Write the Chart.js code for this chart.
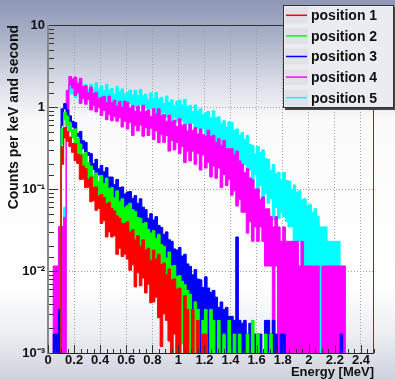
<!DOCTYPE html>
<html>
<head>
<meta charset="utf-8">
<title>Energy spectra</title>
<script src="https://cdn.jsdelivr.net/npm/chart.js@4.4.1/dist/chart.umd.min.js"></script>
<style>
  html, body { margin: 0; padding: 0; background: #ffffff; }
  #wrap { width: 395px; height: 380px; }
</style>
</head>
<body>
<div id="wrap"><canvas id="spectrumChart" width="395" height="380"></canvas></div>
<script>
// =========================
// Data: bin lower edges (MeV) and the noise band of each spectrum
// (upper / lower edge, counts per keV and second)
// =========================
const energy = [
  0, 0.02, 0.04, 0.06, 0.08, 0.1, 0.12, 0.14, 0.16, 0.18,
  0.2, 0.22, 0.24, 0.26, 0.28, 0.3, 0.32, 0.34, 0.36, 0.38,
  0.4, 0.42, 0.44, 0.46, 0.48, 0.5, 0.52, 0.54, 0.56, 0.58,
  0.6, 0.62, 0.64, 0.66, 0.68, 0.7, 0.72, 0.74, 0.76, 0.78,
  0.8, 0.82, 0.84, 0.86, 0.88, 0.9, 0.92, 0.94, 0.96, 0.98,
  1, 1.02, 1.04, 1.06, 1.08, 1.1, 1.12, 1.14, 1.16, 1.18,
  1.2, 1.22, 1.24, 1.26, 1.28, 1.3, 1.32, 1.34, 1.36, 1.38,
  1.4, 1.42, 1.44, 1.46, 1.48, 1.5, 1.52, 1.54, 1.56, 1.58,
  1.6, 1.62, 1.64, 1.66, 1.68, 1.7, 1.72, 1.74, 1.76, 1.78,
  1.8, 1.82, 1.84, 1.86, 1.88, 1.9, 1.92, 1.94, 1.96, 1.98,
  2, 2.02, 2.04, 2.06, 2.08, 2.1, 2.12, 2.14, 2.16, 2.18,
  2.2, 2.22, 2.24, 2.26, 2.28, 2.3, 2.32, 2.34, 2.36, 2.38,
  2.4, 2.42, 2.44, 2.46, 2.48, 2.5,
];

const position1Upper = [
  0, 0, 0, 0, 0, 0.33, 0.56, 0.5, 0.43, 0.36,
  0.356, 0.266, 0.259, 0.191, 0.177, 0.131, 0.14, 0.105, 0.106, 0.082,
  0.086, 0.079, 0.066, 0.069, 0.058, 0.054, 0.047, 0.044, 0.038, 0.038,
  0.04, 0.03, 0.032, 0.024, 0.027, 0.02, 0.024, 0.018, 0.019, 0.0135,
  0.018, 0.014, 0.016, 0.012, 0.0125, 0.009, 0.0106, 0.0078, 0.008, 0.006,
  0.0062, 0, 0.005, 0.0034, 0, 0.0034, 0, 0.0025, 0, 0.0017,
  0.0017, 0, 0, 0, 0, 0, 0, 0, 0, 0,
  0, 0, 0, 0, 0, 0, 0, 0, 0, 0,
  0, 0, 0, 0, 0, 0, 0, 0, 0, 0,
  0, 0, 0, 0, 0, 0, 0, 0, 0, 0,
  0, 0, 0, 0, 0, 0, 0, 0, 0, 0,
  0, 0, 0, 0, 0, 0, 0, 0, 0, 0,
  0, 0, 0, 0, 0, 0,
];
const position1Lower = [
  0, 0, 0, 0, 0, 0.2, 0.42, 0.38, 0.33, 0.28,
  0.221, 0.205, 0.131, 0.132, 0.104, 0.105, 0.07, 0.072, 0.055, 0.058,
  0.038, 0.041, 0.026, 0.03, 0.026, 0.027, 0.016, 0.019, 0.015, 0.016,
  0.014, 0.0102, 0.0119, 0.0064, 0.0095, 0.0066, 0.0082, 0.0054, 0.0069, 0.0041,
  0.0042, 0.0048, 0.0027, 0.0012, 0.003, 0.0025, 0.0014, 0, 0.0017, 0,
  0, 0, 0, 0, 0, 0, 0, 0, 0, 0,
  0, 0, 0, 0, 0, 0, 0, 0, 0, 0,
  0, 0, 0, 0, 0, 0, 0, 0, 0, 0,
  0, 0, 0, 0, 0, 0, 0, 0, 0, 0,
  0, 0, 0, 0, 0, 0, 0, 0, 0, 0,
  0, 0, 0, 0, 0, 0, 0, 0, 0, 0,
  0, 0, 0, 0, 0, 0, 0, 0, 0, 0,
  0, 0, 0, 0, 0, 0,
];

const position2Upper = [
  0, 0, 0, 0, 0, 0.55, 0.86, 0.76, 0.64, 0.53,
  0.54, 0.41, 0.354, 0.27, 0.28, 0.209, 0.191, 0.144, 0.157, 0.124,
  0.146, 0.116, 0.136, 0.101, 0.104, 0.078, 0.095, 0.071, 0.076, 0.06,
  0.063, 0.067, 0.056, 0.053, 0.045, 0.044, 0.038, 0.039, 0.032, 0.029,
  0.031, 0.025, 0.028, 0.021, 0.02, 0.0144, 0.017, 0.0116, 0.0117, 0.0086,
  0.0088, 0.0075, 0.0068, 0.0058, 0.0052, 0, 0.0042, 0.0034, 0, 0.0025,
  0.0034, 0, 0.0034, 0.0025, 0, 0.0025, 0, 0.0017, 0, 0.0025,
  0, 0.0017, 0, 0.0017, 0, 0, 0.0017, 0, 0.0025, 0,
  0.0017, 0, 0, 0.0017, 0, 0.0017, 0, 0, 0, 0,
  0, 0, 0, 0, 0, 0, 0, 0, 0, 0,
  0, 0, 0, 0, 0, 0, 0, 0, 0, 0,
  0, 0, 0, 0, 0, 0, 0, 0, 0, 0,
  0, 0, 0, 0, 0, 0,
];
const position2Lower = [
  0, 0, 0, 0, 0, 0.35, 0.7, 0.6, 0.5, 0.42,
  0.35, 0.261, 0.262, 0.174, 0.179, 0.13, 0.13, 0.098, 0.103, 0.072,
  0.055, 0.066, 0.041, 0.053, 0.042, 0.049, 0.027, 0.038, 0.028, 0.035,
  0.023, 0.026, 0.0143, 0.02, 0.0144, 0.0168, 0.012, 0.0137, 0.0084, 0.011,
  0.0062, 0.0074, 0.0043, 0.0055, 0.0041, 0.0043, 0.0023, 0.003, 0.002, 0.0017,
  0.0017, 0.0013, 0, 0.0012, 0, 0, 0, 0, 0, 0,
  0, 0, 0, 0, 0, 0, 0, 0, 0, 0,
  0, 0, 0, 0, 0, 0, 0, 0, 0, 0,
  0, 0, 0, 0, 0, 0, 0, 0, 0, 0,
  0, 0, 0, 0, 0, 0, 0, 0, 0, 0,
  0, 0, 0, 0, 0, 0, 0, 0, 0, 0,
  0, 0, 0, 0, 0, 0, 0, 0, 0, 0,
  0, 0, 0, 0, 0, 0,
];

const position3Upper = [
  0, 0, 0.0017, 0.0017, 0.0034, 0.95, 1.1, 0.92, 0.78, 0.67,
  0.645, 0.477, 0.504, 0.388, 0.371, 0.279, 0.27, 0.204, 0.23, 0.176,
  0.194, 0.162, 0.182, 0.14, 0.14, 0.113, 0.131, 0.104, 0.106, 0.087,
  0.092, 0.093, 0.077, 0.083, 0.067, 0.076, 0.06, 0.056, 0.044, 0.05,
  0.042, 0.046, 0.036, 0.034, 0.028, 0.03, 0.024, 0.023, 0.0186, 0.018,
  0.0194, 0.0152, 0.016, 0.0122, 0.0114, 0.009, 0.0104, 0.008, 0.0078, 0.0063,
  0.0085, 0.0062, 0.0055, 0.0058, 0.0048, 0.0036, 0.0042, 0.0034, 0.0036, 0.0028,
  0.0028, 0.0025, 0.026, 0.0025, 0.0023, 0.0025, 0.0017, 0.0023, 0.0017, 0.0017,
  0.0017, 0.0017, 0, 0.0025, 0.0025, 0.0017, 0.0025, 0.0017, 0, 0.0017,
  0.0017, 0, 0, 0, 0, 0, 0, 0, 0, 0,
  0, 0, 0, 0, 0, 0, 0, 0, 0, 0,
  0, 0, 0.0017, 0, 0, 0, 0, 0, 0, 0,
  0, 0, 0, 0, 0, 0,
];
const position3Lower = [
  0, 0, 0, 0, 0, 0.6, 0.95, 0.8, 0.67, 0.57,
  0.45, 0.44, 0.295, 0.31, 0.248, 0.257, 0.167, 0.173, 0.137, 0.149,
  0.12, 0.088, 0.098, 0.077, 0.085, 0.071, 0.076, 0.054, 0.062, 0.052,
  0.038, 0.047, 0.029, 0.039, 0.031, 0.037, 0.02, 0.028, 0.02, 0.024,
  0.0153, 0.0173, 0.0098, 0.0135, 0.0099, 0.0116, 0.008, 0.0092, 0.0055, 0.007,
  0.0042, 0.0047, 0.0028, 0.0035, 0.002, 0.0018, 0, 0.0013, 0, 0,
  0, 0, 0, 0, 0, 0, 0, 0, 0, 0,
  0, 0, 0, 0, 0, 0, 0, 0, 0, 0,
  0, 0, 0, 0, 0, 0, 0, 0, 0, 0,
  0, 0, 0, 0, 0, 0, 0, 0, 0, 0,
  0, 0, 0, 0, 0, 0, 0, 0, 0, 0,
  0, 0, 0, 0, 0, 0, 0, 0, 0, 0,
  0, 0, 0, 0, 0, 0,
];

const position4Upper = [
  0, 0, 0.0115, 0.0115, 0.035, 0.035, 0.045, 1.6, 2.35, 2.2,
  2.32, 1.95, 2.24, 1.79, 1.81, 1.49, 1.75, 1.46, 1.51, 1.27,
  1.31, 1.35, 1.13, 1.36, 1.13, 1.21, 1.03, 1.17, 1.0, 1.18,
  1.14, 0.97, 1.04, 0.89, 1.02, 0.87, 1.05, 0.88, 0.92, 0.77,
  0.95, 0.82, 0.95, 0.78, 0.81, 0.67, 0.8, 0.66, 0.69, 0.58,
  0.72, 0.6, 0.61, 0.51, 0.62, 0.52, 0.56, 0.47, 0.54, 0.46,
  0.44, 0.52, 0.44, 0.45, 0.37, 0.41, 0.34, 0.39, 0.31, 0.31,
  0.31, 0.26, 0.29, 0.22, 0.2, 0.158, 0.177, 0.136, 0.13, 0.1,
  0.1, 0.075, 0.08, 0.057, 0.0575, 0.046, 0.0345, 0.046, 0.0345, 0.023,
  0.0345, 0.023, 0.023, 0.023, 0.023, 0.023, 0.0115, 0.023, 0.0115, 0.0115,
  0.0115, 0.0115, 0.0115, 0.0115, 0, 0.0115, 0.0115, 0.0115, 0.0115, 0.0115,
  0.0115, 0.0115, 0.0115, 0.0115, 0, 0, 0, 0, 0, 0,
  0, 0, 0, 0, 0, 0,
];
const position4Lower = [
  0, 0, 0, 0, 0, 0, 0, 0.9, 1.85, 1.7,
  1.38, 1.5, 1.11, 1.27, 1.08, 1.23, 0.92, 1.05, 0.87, 0.99,
  0.79, 0.91, 0.7, 0.81, 0.68, 0.77, 0.67, 0.74, 0.57, 0.67,
  0.54, 0.65, 0.45, 0.59, 0.51, 0.6, 0.44, 0.56, 0.45, 0.55,
  0.4, 0.51, 0.37, 0.46, 0.37, 0.45, 0.29, 0.39, 0.3, 0.37,
  0.27, 0.33, 0.21, 0.29, 0.22, 0.29, 0.2, 0.27, 0.17, 0.26,
  0.18, 0.21, 0.14, 0.19, 0.135, 0.18, 0.104, 0.15, 0.11, 0.13,
  0.084, 0.095, 0.062, 0.075, 0.052, 0.052, 0.029, 0.04, 0.023, 0.0345,
  0.023, 0.0345, 0.023, 0.0115, 0.0115, 0.0115, 0, 0.0115, 0, 0,
  0, 0, 0, 0, 0, 0, 0, 0, 0, 0,
  0, 0, 0, 0, 0, 0, 0, 0, 0, 0,
  0, 0, 0, 0, 0, 0, 0, 0, 0, 0,
  0, 0, 0, 0, 0, 0,
];

const position5Upper = [
  0, 0, 0, 0, 0, 0, 0.06, 1.1, 1.9, 1.85,
  2.0, 1.68, 2.05, 1.76, 1.89, 1.64, 1.89, 1.65, 1.97, 1.66,
  1.81, 1.58, 1.89, 1.6, 1.68, 1.44, 1.78, 1.53, 1.66, 1.44,
  1.5, 1.61, 1.4, 1.6, 1.38, 1.64, 1.37, 1.44, 1.22, 1.49,
  1.26, 1.51, 1.25, 1.31, 1.11, 1.36, 1.13, 1.22, 1.04, 1.18,
  1.22, 1.05, 1.24, 1.02, 1.05, 0.88, 1.06, 0.89, 0.95, 0.81,
  0.86, 0.88, 0.74, 0.9, 0.74, 0.76, 0.63, 0.68, 0.57, 0.66,
  0.65, 0.52, 0.54, 0.45, 0.49, 0.4, 0.45, 0.35, 0.34, 0.27,
  0.33, 0.28, 0.3, 0.235, 0.23, 0.17, 0.2, 0.155, 0.16, 0.13,
  0.16, 0.127, 0.125, 0.099, 0.112, 0.092, 0.095, 0.074, 0.076, 0.062,
  0.065, 0.052, 0.0575, 0.046, 0.0345, 0.0345, 0.0345, 0.023, 0.023, 0.023,
  0.023, 0.023, 0.0115, 0.0115, 0, 0, 0, 0, 0, 0,
  0, 0, 0, 0, 0, 0,
];
const position5Lower = [
  0, 0, 0, 0, 0, 0, 0, 0.5, 1.45, 1.45,
  1.3, 1.44, 1.11, 1.33, 1.18, 1.39, 1.1, 1.31, 1.11, 1.29,
  1.08, 1.27, 1.0, 1.19, 1.02, 1.2, 1.05, 1.19, 0.92, 1.11,
  0.98, 1.11, 0.85, 1.02, 0.9, 1.06, 0.82, 0.98, 0.83, 0.96,
  0.95, 0.75, 0.88, 0.74, 0.86, 0.75, 0.83, 0.63, 0.75, 0.66,
  0.54, 0.68, 0.45, 0.62, 0.51, 0.63, 0.36, 0.55, 0.42, 0.55,
  0.39, 0.49, 0.29, 0.42, 0.32, 0.4, 0.29, 0.36, 0.22, 0.3,
  0.22, 0.26, 0.16, 0.22, 0.18, 0.2, 0.12, 0.17, 0.12, 0.15,
  0.092, 0.111, 0.068, 0.088, 0.067, 0.076, 0.042, 0.059, 0.044, 0.052,
  0.046, 0.04, 0.0345, 0.0345, 0.023, 0.023, 0.023, 0.0115, 0.0115, 0.0115,
  0.0115, 0.0115, 0, 0.0115, 0, 0, 0, 0, 0, 0,
  0, 0, 0, 0, 0, 0, 0, 0, 0, 0,
  0, 0, 0, 0, 0, 0,
];

const seriesNames = ["position 1", "position 2", "position 3", "position 4", "position 5"];
const seriesColors = ["#ff0000", "#00ff00", "#0000ff", "#ff00ff", "#00ffff"];
const seriesUpper = [position1Upper, position2Upper, position3Upper, position4Upper, position5Upper];
const seriesLower = [position1Lower, position2Lower, position3Lower, position4Lower, position5Lower];

// empty bins have no place on a log axis: push them below the frame
const EMPTY_BIN = 1e-4;

const superscript = { "-": "\u207B", "1": "\u00B9", "2": "\u00B2", "3": "\u00B3" };

const isDecade = (v) => Math.abs(Math.log10(v) - Math.round(Math.log10(v))) < 1e-6;
const isMajorX = (v) => Math.abs(v / 0.2 - Math.round(v / 0.2)) < 1e-6;

Chart.defaults.font.family = "'Liberation Sans', Arial, sans-serif";
Chart.defaults.color = "#111";

// =========================
// Canvas background (ROOT style gradient)
// =========================
const backgroundPlugin = {
  id: "rootBackground",
  beforeDraw(chart) {
    const { ctx, width, height } = chart;
    const g = ctx.createLinearGradient(0, 0, 0, height);
    g.addColorStop(0, "#8e98b6");
    g.addColorStop(0.1, "#a9b2c8");
    g.addColorStop(0.2, "#d3d7e2");
    g.addColorStop(0.32, "#fbfbfc");
    g.addColorStop(0.75, "#ffffff");
    g.addColorStop(0.88, "#eceef3");
    g.addColorStop(1, "#cdd1dc");
    ctx.save();
    ctx.fillStyle = g;
    ctx.fillRect(0, 0, width, height);
    ctx.restore();
  },
};

// =========================
// Frame, axis lines and inner tick marks
// =========================
const framePlugin = {
  id: "rootFrame",
  afterDatasetsDraw(chart) {
    const { ctx, chartArea: a, scales } = chart;
    ctx.save();
    ctx.lineWidth = 1;
    ctx.strokeStyle = "#333";
    ctx.beginPath();
    ctx.moveTo(a.left, a.top + 0.5);
    ctx.lineTo(a.right, a.top + 0.5);
    ctx.stroke();
    ctx.strokeStyle = "#8a2a2a";
    ctx.beginPath();
    ctx.moveTo(a.right - 0.5, a.top);
    ctx.lineTo(a.right - 0.5, a.bottom);
    ctx.stroke();
    ctx.strokeStyle = "#222";
    ctx.beginPath();
    ctx.moveTo(a.left, a.bottom + 0.5);
    ctx.lineTo(a.right, a.bottom + 0.5);
    ctx.stroke();
    ctx.strokeStyle = "#888";
    ctx.lineWidth = 2;
    ctx.beginPath();
    ctx.moveTo(a.left, a.top);
    ctx.lineTo(a.left, a.bottom + 1);
    ctx.stroke();

    // tick marks pointing into the plot
    ctx.lineWidth = 1;
    ctx.strokeStyle = "#333";
    scales.y.ticks.forEach((t) => {
      const py = Math.round(scales.y.getPixelForValue(t.value)) + 0.5;
      const len = isDecade(t.value) ? 9 : 5;
      ctx.beginPath();
      ctx.moveTo(a.left + 1, py);
      ctx.lineTo(a.left + 1 + len, py);
      ctx.stroke();
    });
    scales.x.ticks.forEach((t) => {
      const px = Math.round(scales.x.getPixelForValue(t.value)) + 0.5;
      const len = isMajorX(t.value) ? 8 : 4;
      ctx.beginPath();
      ctx.moveTo(px, a.bottom);
      ctx.lineTo(px, a.bottom - len);
      ctx.stroke();
    });
    ctx.restore();
  },
};

// =========================
// Legend box (top right)
// =========================
const legendPlugin = {
  id: "rootLegend",
  afterDraw(chart) {
    const { ctx } = chart;
    const x = 283, y = 5, w = 111, h = 103;
    ctx.save();
    ctx.fillStyle = "#444";
    ctx.fillRect(x + 2, y + 2, w, h);
    ctx.fillStyle = "rgba(238, 240, 245, 0.98)";
    ctx.fillRect(x, y, w, h);
    ctx.strokeStyle = "#333";
    ctx.lineWidth = 1;
    ctx.strokeRect(x + 0.5, y + 0.5, w - 1, h - 1);

    const rowH = h / seriesNames.length;
    ctx.font = "bold 14px 'Liberation Sans', Arial, sans-serif";
    ctx.textBaseline = "middle";
    seriesNames.forEach((name, i) => {
      const cy = y + rowH * (i + 0.5);
      ctx.fillStyle = "rgba(0, 0, 0, 0.04)";
      ctx.fillRect(x + 2, cy - 8, 23, 16);
      ctx.strokeStyle = seriesColors[i];
      ctx.lineWidth = 1.5;
      ctx.beginPath();
      ctx.moveTo(x + 3, cy);
      ctx.lineTo(x + 24, cy);
      ctx.stroke();
      ctx.fillStyle = "#111";
      ctx.fillText(name, x + 28, cy + 1);
    });
    ctx.restore();
  },
};

// =========================
// Chart
// =========================
function initSpectrumChart() {
  const ctx = document.getElementById("spectrumChart");
  const toPlot = (values) => values.map((v) => (v > 0 ? v : EMPTY_BIN));

  // each spectrum = lower edge line + upper edge line filled down to it
  const datasets = [];
  seriesNames.forEach((name, i) => {
    datasets.push({
      label: name + " low",
      data: toPlot(seriesLower[i]),
      borderColor: seriesColors[i],
      borderWidth: 1,
      pointRadius: 0,
      stepped: true,
      fill: false,
    });
    datasets.push({
      label: name,
      data: toPlot(seriesUpper[i]),
      borderColor: seriesColors[i],
      backgroundColor: seriesColors[i],
      borderWidth: 1,
      pointRadius: 0,
      stepped: true,
      fill: "-1",
    });
  });

  window.spectrumChart = new Chart(ctx, {
    type: "line",
    data: { labels: energy, datasets },
    plugins: [backgroundPlugin, framePlugin, legendPlugin],
    options: {
      responsive: false,
      animation: false,
      devicePixelRatio: 1,
      layout: { padding: { top: 25, right: 21, bottom: 0, left: 0 } },
      plugins: {
        legend: { display: false },
        tooltip: { enabled: false },
      },
      scales: {
        x: {
          type: "linear",
          min: 0,
          max: 2.5,
          afterFit: (scale) => { scale.height = 27; },
          grid: {
            color: (c) => (c.tick && isMajorX(c.tick.value) ? "#a0a0a0" : "rgba(0,0,0,0)"),
            drawTicks: false,
          },
          border: { display: false, dash: [1, 2] },
          ticks: {
            stepSize: 0.05,
            autoSkip: false,
            maxTicksLimit: 100,
            maxRotation: 0,
            minRotation: 0,
            padding: 0,
            font: { size: 13, weight: "bold" },
            callback: (v) => (isMajorX(v) ? String(Math.round(v * 10) / 10) : ""),
          },
          title: {
            display: true,
            text: "Energy [MeV]",
            align: "end",
            padding: { top: 0, bottom: 0 },
            font: { size: 13, weight: "bold" },
          },
        },
        y: {
          type: "logarithmic",
          min: 0.001,
          max: 10,
          afterFit: (scale) => { scale.width = 48; },
          grid: {
            color: (c) => (c.tick && isDecade(c.tick.value) ? "#a0a0a0" : "rgba(0,0,0,0)"),
            drawTicks: false,
          },
          border: { display: false, dash: [1, 2] },
          ticks: {
            autoSkip: false,
            padding: 3,
            font: { size: 13, weight: "bold" },
            callback: (v) => {
              if (!isDecade(v)) return "";
              const e = Math.round(Math.log10(v));
              if (e === 1) return "10";
              if (e === 0) return "1";
              return "10" + String(e).split("").map((c) => superscript[c]).join("");
            },
          },
          title: {
            display: true,
            text: "Counts per keV and second",
            align: "end",
            padding: { top: 6, bottom: 0 },
            font: { size: 14, weight: "bold" },
          },
        },
      },
    },
  });
}

document.addEventListener("DOMContentLoaded", initSpectrumChart);
</script>
</body>
</html>
